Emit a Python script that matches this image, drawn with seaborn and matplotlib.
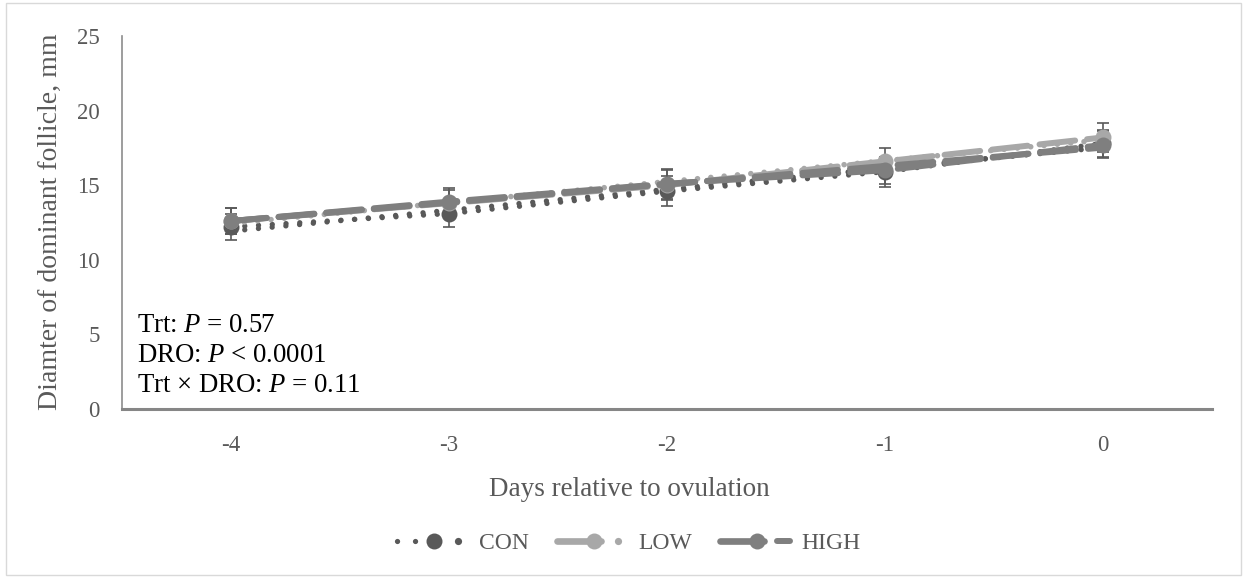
import numpy as np
import pandas as pd
import matplotlib
matplotlib.use("Agg")
import matplotlib.pyplot as plt
import seaborn as sns
from matplotlib.lines import Line2D
from matplotlib.legend_handler import HandlerBase
from matplotlib.patches import Rectangle

# ---- data ----
days = [-4, -3, -2, -1, 0]
con = [12.2, 13.1, 14.6, 15.9, 17.8]
low = [12.6, 13.8, 15.0, 16.6, 18.2]
high = [12.6, 13.9, 15.1, 16.0, 17.7]
con_err = [0.9, 0.9, 1.0, 1.0, 0.9]
low_err = [0.9, 0.9, 1.0, 0.9, 1.0]
high_err = [0.9, 0.9, 1.0, 0.9, 0.9]
series_names = ["CON", "LOW", "HIGH"]
stats_lines = ["Trt: $P$ = 0.57", "DRO: $P$ < 0.0001", "Trt × DRO: $P$ = 0.11"]
xlabel = "Days relative to ovulation"
ylabel = "Diamter of dominant follicle, mm"

sns.set_theme(style="white")
plt.rcParams["font.family"] = ["Liberation Serif", "DejaVu Serif"]
plt.rcParams["mathtext.fontset"] = "custom"
plt.rcParams["mathtext.rm"] = "Liberation Serif"
plt.rcParams["mathtext.it"] = "Liberation Serif:italic"

C_CON, C_LOW, C_HIGH = "#595959", "#A8A8A8", "#7F7F7F"
TXT = "#595959"

fig = plt.figure(figsize=(12.44, 5.78), dpi=100)
ax = fig.add_axes([122 / 1244, 1 - 409 / 578, (1212 - 122) / 1244, (409 - 36) / 578])

fig.patches.append(Rectangle((6 / 1244, 3 / 578), 1235 / 1244, 572 / 578,
                             transform=fig.transFigure, fill=False,
                             edgecolor="#D9D9D9", linewidth=1.0))

df = pd.DataFrame({"day": days * 3,
                   "val": con + low + high,
                   "err": con_err + low_err + high_err,
                   "grp": ["CON"] * 5 + ["LOW"] * 5 + ["HIGH"] * 5})

DOT = (0, (0.01, 2.6))
styles = {
    "CON": dict(color=C_CON, ls=DOT, lw=3.8, tls=DOT, tlw=3.8),
    "LOW": dict(color=C_LOW, ls=(0, (6, 2.0)), lw=4.3, tls=(0, (0.01, 2.4)), tlw=4.0),
    "HIGH": dict(color=C_HIGH, ls=(0, (6, 2.0)), lw=4.3, tls=(0, (6, 2.0)), tlw=4.3),
}

for g in series_names:
    sub = df[df.grp == g]
    st = styles[g]
    ax.errorbar(sub.day, sub.val, yerr=sub.err, fmt="none", ecolor="#595959",
                elinewidth=1.2, capsize=4, capthick=1.2, zorder=2)
    sns.lineplot(x=sub.day.values, y=sub.val.values, ax=ax, color=st["color"],
                 linewidth=st["lw"], linestyle=st["ls"], marker="o", markersize=11.5,
                 markeredgewidth=0, dash_capstyle="round", zorder=3)
    sns.regplot(x=sub.day.values, y=sub.val.values, ax=ax, ci=None, scatter=False,
                truncate=True,
                line_kws=dict(color=st["color"], linewidth=st["tlw"],
                              linestyle=st["tls"], dash_capstyle="round", zorder=3))

ax.set_xlim(-4.5, 0.5)
ax.set_ylim(0, 25)
ax.set_xticks(days)
ax.set_xticklabels([str(d) for d in days])
ax.set_yticks([0, 5, 10, 15, 20, 25])
ax.tick_params(axis="both", length=0, labelsize=16.5, labelcolor=TXT)
ax.tick_params(axis="x", pad=19)
ax.tick_params(axis="y", pad=16)
for s in ["top", "right"]:
    ax.spines[s].set_visible(False)
ax.spines["left"].set_color("#8C8C8C")
ax.spines["left"].set_linewidth(1.2)
ax.spines["bottom"].set_color("#868686")
ax.spines["bottom"].set_linewidth(2.2)
ax.set_xlabel(xlabel, fontsize=19.5, color=TXT)
ax.xaxis.set_label_coords((629 - 122) / 1090, -(490 - 409) / 373, transform=ax.transAxes)
ax.xaxis.label.set_va("center")
ax.set_ylabel(ylabel, fontsize=20, color=TXT)
ax.yaxis.set_label_coords(-(122 - 50) / 1090, (409 - 222) / 373, transform=ax.transAxes)
ax.yaxis.label.set_va("center")
ax.grid(False)

for i, t in enumerate(stats_lines):
    ax.text(0.0138, 0.2246 - i * 0.0802, t, transform=ax.transAxes, fontsize=19.3,
            color="black", va="center", ha="left")


class SplitHandler(HandlerBase):
    """Series sample (line + marker) followed by a trendline sample."""

    def __init__(self, s_kw, t_kind, color, t_lw=4.3):
        super().__init__()
        self.s_kw, self.t_kind, self.color, self.t_lw = s_kw, t_kind, color, t_lw

    def create_artists(self, legend, orig_handle, xdescent, ydescent, width, height,
                       fontsize, trans):
        y = height / 2 - ydescent
        x0 = -xdescent
        arts = [Line2D([x0, x0 + width * 0.62], [y, y], transform=trans, **self.s_kw),
                Line2D([x0 + width * 0.52], [y], transform=trans, marker="o",
                       markersize=11.5, markeredgewidth=0, linestyle="none",
                       color=self.color)]
        if self.t_kind == "dot":
            arts.append(Line2D([x0 + width * 0.86], [y], transform=trans, marker="o",
                               markersize=5.2, markeredgewidth=0, linestyle="none",
                               color=self.color))
        else:
            arts.append(Line2D([x0 + width * 0.80, x0 + width * 0.98], [y, y],
                               transform=trans, color=self.color, lw=self.t_lw,
                               solid_capstyle="round"))
        return arts


h = [Line2D([], []) for _ in series_names]
handler_map = {
    h[0]: SplitHandler(dict(color=C_CON, lw=3.8, ls=(0, (0.01, 3.4)),
                            dash_capstyle="round"), "dot", C_CON),
    h[1]: SplitHandler(dict(color=C_LOW, lw=4.8, solid_capstyle="round"), "dot", C_LOW),
    h[2]: SplitHandler(dict(color=C_HIGH, lw=4.8, solid_capstyle="round"), "dash", C_HIGH),
}
fig.legend(h, series_names, loc="center", bbox_to_anchor=(629 / 1244, 1 - 543 / 578),
           ncol=3, frameon=False, fontsize=17, labelcolor=TXT, handlelength=3.0,
           handletextpad=0.45, columnspacing=1.2, handler_map=handler_map)

fig.savefig("out.png", dpi=100)
